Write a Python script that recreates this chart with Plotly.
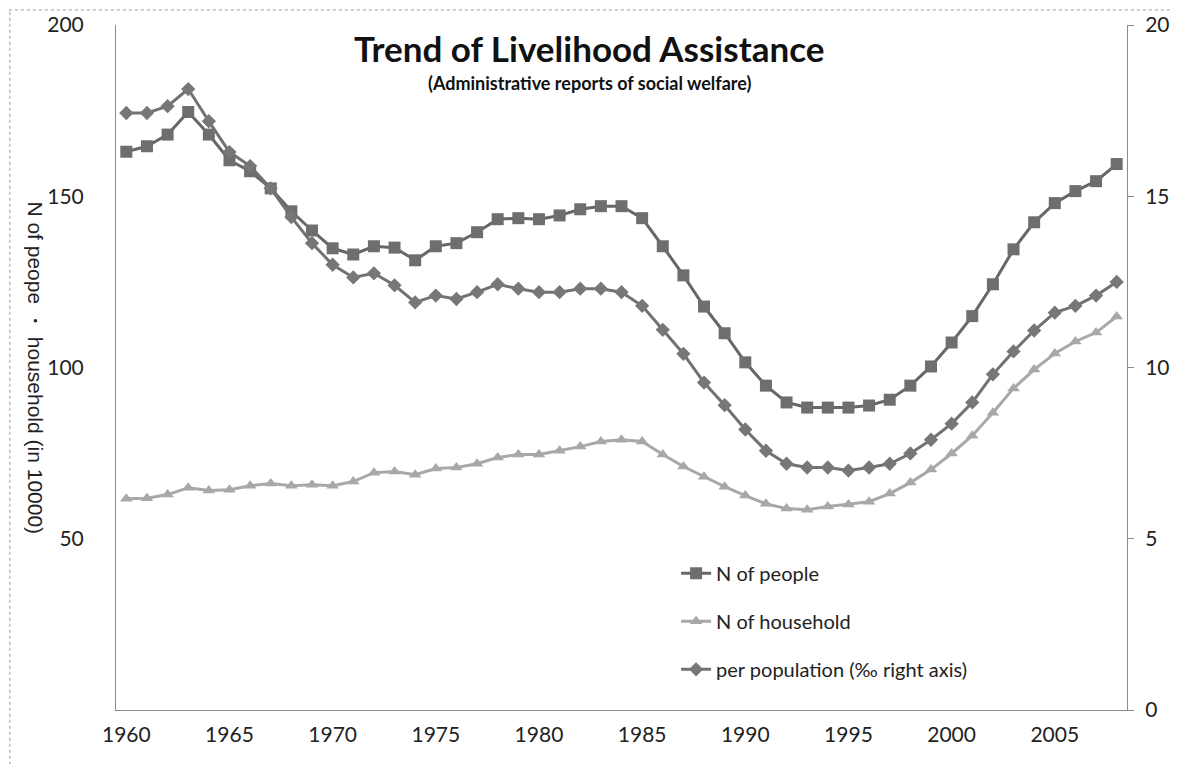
import plotly.graph_objects as go

years = list(range(1960, 2009))

# N of people (in 10000), left axis
people = [163, 164.6, 168, 174.6, 168, 160.5, 157.3, 152.3, 145.6, 140,
          134.8, 133, 135.4, 135, 131.3, 135.4, 136.3, 139.5, 143.3, 143.6,
          143.3, 144.4, 146.2, 147.1, 147.1, 143.6, 135.4, 126.9, 117.8, 110,
          101.5, 94.7, 89.8, 88.3, 88.3, 88.3, 88.9, 90.6, 94.7, 100.3,
          107.3, 115, 124.3, 134.5, 142.4, 148, 151.5, 154.4, 159.4]

# N of household (in 10000), left axis
household = [61.7, 61.8, 62.9, 64.9, 64.1, 64.3, 65.5, 66.1, 65.5, 65.8,
             65.5, 66.7, 69.3, 69.6, 68.7, 70.5, 70.8, 71.9, 73.7, 74.6,
             74.6, 75.7, 76.9, 78.4, 78.9, 78.4, 74.6, 71.1, 68.1, 65.2,
             62.6, 60.2, 58.8, 58.5, 59.4, 60.0, 60.8, 63.2, 66.4, 70.2,
             74.9, 80.1, 86.8, 93.9, 99.4, 104.1, 107.6, 110.2, 114.9]

# per population (permil), right axis
per_pop = [17.43, 17.43, 17.63, 18.13, 17.19, 16.29, 15.88, 15.23, 14.39, 13.63,
           13.0, 12.63, 12.75, 12.4, 11.9, 12.1, 12.0, 12.2, 12.43, 12.3,
           12.2, 12.2, 12.3, 12.3, 12.2, 11.8, 11.1, 10.4, 9.56, 8.9,
           8.19, 7.57, 7.19, 7.08, 7.08, 6.99, 7.08, 7.19, 7.49, 7.89,
           8.36, 8.98, 9.8, 10.47, 11.08, 11.6, 11.8, 12.1, 12.5]

left_ticks = [50, 100, 150, 200]
right_ticks = [0, 5, 10, 15, 20]
x_ticks = list(range(1960, 2009, 5))

font_main = "Lato, Open Sans, sans-serif"

fig = go.Figure()
fig.add_trace(go.Scatter(
    x=years, y=people, name="N of people", mode="lines+markers",
    line=dict(color="#676767", width=3),
    marker=dict(symbol="square", size=12, color="#6e6e6e"),
    legendgroup="a"))
fig.add_trace(go.Scatter(
    x=years, y=household, name="N of household", mode="lines+markers",
    line=dict(color="#a8a8a8", width=3),
    marker=dict(symbol="triangle-up", size=11, color="#a8a8a8"),
    legendgroup="b"))
fig.add_trace(go.Scatter(
    x=years, y=per_pop, name="per population (‰ right axis)", mode="lines+markers",
    line=dict(color="#727272", width=3),
    marker=dict(symbol="diamond", size=11, color="#777777"),
    yaxis="y2", legendgroup="c"))

# page body adds an 8px margin all round, so the figure is 16px smaller than the window
fig.update_layout(
    width=1163, height=756,
    margin=dict(l=108, r=44, t=17, b=54),
    paper_bgcolor="white", plot_bgcolor="white",
    font=dict(family=font_main, color="#222222", size=21),
    showlegend=True,
    legend=dict(x=0.554, y=0.228, xanchor="left", yanchor="top",
                bgcolor="rgba(0,0,0,0)", font=dict(size=20, color="#222222"),
                tracegroupgap=19, itemwidth=30),
    xaxis=dict(range=[1959.5, 2008.5], tickvals=x_ticks, showgrid=False,
               zeroline=False, showline=True, linecolor="#8c8c8c", linewidth=1,
               ticks="", ticklabelstandoff=6, tickfont=dict(size=21), automargin=False),
    yaxis=dict(range=[0, 200], tickvals=left_ticks, showgrid=False,
               zeroline=False, showline=True, linecolor="#8c8c8c", linewidth=1,
               ticks="", ticklabelstandoff=27, tickfont=dict(size=21), automargin=False),
    yaxis2=dict(range=[0, 20], tickvals=right_ticks, overlaying="y", side="right",
                showgrid=False, zeroline=False, showline=True, linecolor="#8c8c8c",
                linewidth=1, ticks="outside", ticklen=6, tickcolor="#8c8c8c",
                ticklabelstandoff=7, tickfont=dict(size=21), automargin=False),
)

fig.add_annotation(text="<b>Trend of Livelihood Assistance</b>", xref="paper", yref="paper",
                   x=0.468, y=1.0, yanchor="top", showarrow=False,
                   font=dict(size=35, color="#111111", family=font_main))
fig.add_annotation(text="<b>(Administrative reports of social welfare)</b>", xref="paper",
                   yref="paper", x=0.468, y=0.935, yanchor="top", showarrow=False,
                   font=dict(size=18, color="#111111", family=font_main))
fig.add_annotation(text="N of peope ・ household (in 10000)", xref="paper", yref="paper",
                   x=-0.08, y=0.5, xanchor="center", textangle=90, showarrow=False,
                   font=dict(size=21, color="#222222", family="Liberation Sans, Arial, sans-serif"))

# chart border (top and left edges visible)
fig.add_shape(type="line", xref="paper", yref="paper", x0=-0.106, x1=1.05, y0=1.022, y1=1.022,
              line=dict(color="#9a9a9a", width=1, dash="dot"))
fig.add_shape(type="line", xref="paper", yref="paper", x0=-0.105, x1=-0.105, y0=-0.08, y1=1.022,
              line=dict(color="#9a9a9a", width=1, dash="dot"))

fig.write_html("out.html")
